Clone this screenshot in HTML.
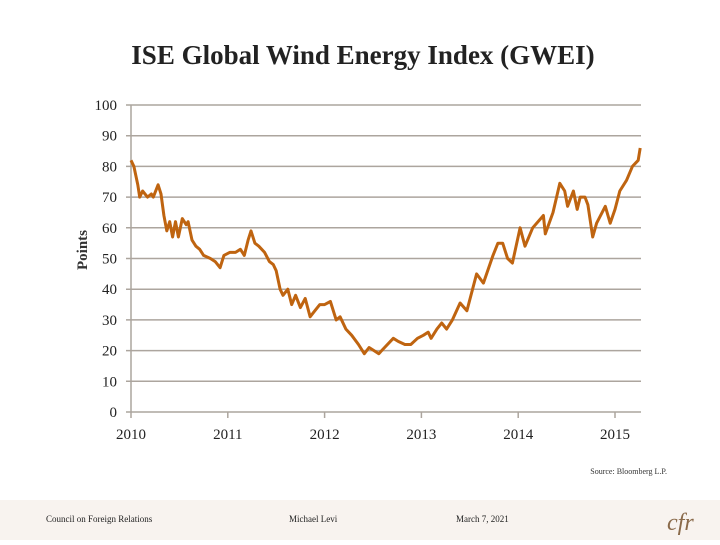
<!DOCTYPE html>
<html><head><meta charset="utf-8"><style>
body{margin:0;width:720px;height:540px;background:#fff;overflow:hidden;font-family:"Liberation Serif",serif}
</style></head><body>
<svg width="720" height="540" xmlns="http://www.w3.org/2000/svg">
<rect x="0" y="500" width="720" height="40" fill="#f8f3ef"/>
<text x="363" y="64" text-anchor="middle" font-size="27" font-weight="bold" fill="#222">ISE Global Wind Energy Index (GWEI)</text>
<g id="grid"></g>
<g id="yt"></g>
<g id="xt"></g>
<text transform="translate(87,250) rotate(-90)" text-anchor="middle" font-size="15" font-weight="bold" fill="#333">Points</text>
<path id="line" fill="none" stroke="#bf6410" stroke-width="3" stroke-linejoin="round"/>
<text x="667" y="474" text-anchor="end" font-size="8" fill="#333">Source: Bloomberg L.P.</text>
<text x="46" y="522" font-size="9" fill="#222">Council on Foreign Relations</text>
<text x="289" y="522" font-size="9" fill="#222">Michael Levi</text>
<text x="456" y="522" font-size="9" fill="#222">March 7, 2021</text>
<text x="667" y="530" font-size="24" font-style="italic" fill="#8a6a4a">cfr</text>
</svg>
<script>
const yTicks=[0,10,20,30,40,50,60,70,80,90,100];
const xTicks=[2010,2011,2012,2013,2014,2015];
const dates=[0,.03,.07,.09,.12,.17,.21,.23,.28,.31,.34,.37,.40,.43,.46,.49,.53,.57,.59,.63,.67,.71,.75,.82,.87,.92,.96,1.02,1.08,1.13,1.17,1.21,1.24,1.28,1.32,1.38,1.43,1.47,1.50,1.54,1.57,1.62,1.66,1.70,1.75,1.80,1.85,1.90,1.95,2.00,2.06,2.12,2.16,2.22,2.28,2.35,2.41,2.46,2.51,2.56,2.62,2.71,2.76,2.83,2.89,2.96,3.02,3.07,3.10,3.16,3.21,3.26,3.32,3.40,3.47,3.57,3.64,3.74,3.79,3.84,3.89,3.94,4.02,4.07,4.15,4.26,4.28,4.36,4.43,4.48,4.51,4.57,4.61,4.64,4.69,4.72,4.77,4.81,4.90,4.95,5.00,5.05,5.12,5.18,5.24,5.26];
const values=[82,80,74,70,72,70,71,70,74,71,64,59,62,57,62,57,63,61,62,56,54,53,51,50,49,47,51,52,52,53,51,56,59,55,54,52,49,48,46,40,38,40,35,38,34,37,31,33,35,35,36,30,31,27,25,22,19,21,20,19,21,24,23,22,22,24,25,26,24,27,29,27,30,35.5,33,45,42,51,55,55,50,48.5,60,54,60,64,58,65,74.5,72,67,72,66,70,70,67.5,57,61.5,67,61.5,66,72,75.5,80,82,86];
const X0=131,XS=96.8,Y0=412,YS=3.07;
const sx=d=>X0+d*XS, sy=v=>Y0-v*YS;
const NS="http://www.w3.org/2000/svg";
const grid=document.getElementById('grid'),yt=document.getElementById('yt'),xt=document.getElementById('xt');
yTicks.forEach(v=>{
 const l=document.createElementNS(NS,'line');
 l.setAttribute('x1',X0-5);l.setAttribute('x2',641);l.setAttribute('y1',sy(v));l.setAttribute('y2',sy(v));
 l.setAttribute('stroke','#aca59e');l.setAttribute('stroke-width','1.5');
 
 
 grid.appendChild(l);
 const t=document.createElementNS(NS,'text');
 t.setAttribute('x',117);t.setAttribute('y',sy(v)+5);t.setAttribute('text-anchor','end');t.setAttribute('font-size','15');t.setAttribute('fill','#222');
 t.textContent=v;
 
 
 yt.appendChild(t);
});
const ax=document.createElementNS(NS,'line');
ax.setAttribute('x1',X0);ax.setAttribute('x2',X0);ax.setAttribute('y1',sy(100));ax.setAttribute('y2',Y0);ax.setAttribute('stroke','#aca59e');ax.setAttribute('stroke-width','1.5');


grid.appendChild(ax);
xTicks.forEach(y=>{
 const x=sx(y-2010);
 const l=document.createElementNS(NS,'line');
 l.setAttribute('x1',x);l.setAttribute('x2',x);l.setAttribute('y1',Y0);l.setAttribute('y2',Y0+6);l.setAttribute('stroke','#aca59e');l.setAttribute('stroke-width','1.5');
 
 
 grid.appendChild(l);
 const t=document.createElementNS(NS,'text');
 t.setAttribute('x',x);t.setAttribute('y',439);t.setAttribute('text-anchor','middle');t.setAttribute('font-size','15');t.setAttribute('fill','#222');
 t.textContent=y;
 
 
 xt.appendChild(t);
});
document.getElementById('line').setAttribute('d',dates.map((d,i)=>(i?'L':'M')+sx(d).toFixed(1)+','+sy(values[i]).toFixed(1)).join(''));
</script>
</body></html>
